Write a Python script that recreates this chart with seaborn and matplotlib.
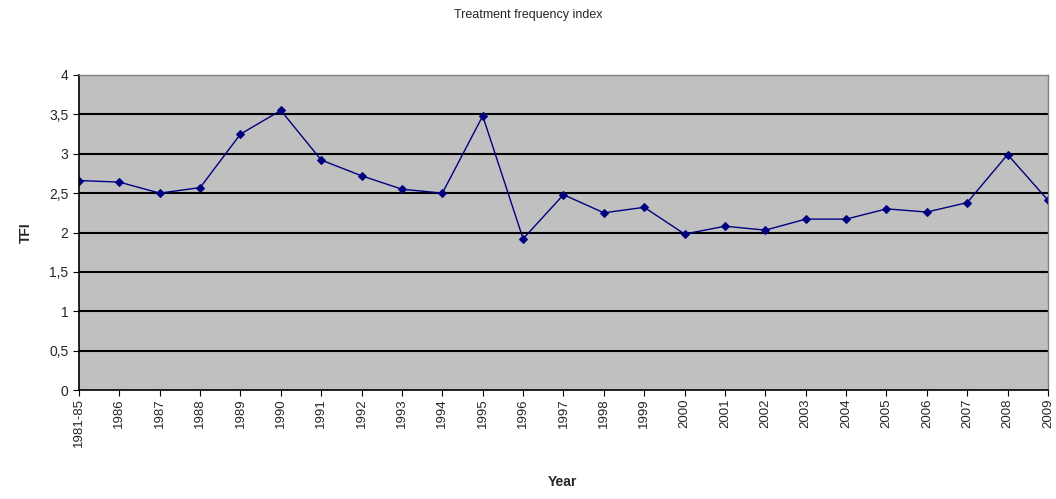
import matplotlib
matplotlib.use("Agg")
import matplotlib.pyplot as plt
import seaborn as sns
import pandas as pd
from matplotlib.ticker import FuncFormatter

years = ["1981-85", "1986", "1987", "1988", "1989", "1990", "1991", "1992",
         "1993", "1994", "1995", "1996", "1997", "1998", "1999", "2000",
         "2001", "2002", "2003", "2004", "2005", "2006", "2007", "2008", "2009"]
tfi = [2.66, 2.64, 2.50, 2.57, 3.25, 3.55, 2.92, 2.72, 2.55, 2.50, 3.48, 1.92,
       2.48, 2.25, 2.32, 1.98, 2.08, 2.03, 2.17, 2.17, 2.30, 2.26, 2.38, 2.99, 2.41]

df = pd.DataFrame({"Year": years, "TFI": tfi})

sns.set_style("white")
plt.rcParams["font.family"] = ["Liberation Sans", "DejaVu Sans"]

fig = plt.figure(figsize=(10.56, 4.99), dpi=100)
ax = fig.add_axes([0.0748, 0.2184, 0.9176, 0.6313])
ax.set_facecolor("#c0c0c0")

sns.lineplot(data=df, x="Year", y="TFI", ax=ax, color="#000080", linewidth=1.0,
             marker="D", markersize=4.5, markeredgecolor="#000080", sort=False)

ax.set_xlim(0, len(years) - 1)
ax.set_ylim(0, 4)
ax.set_yticks([0, 0.5, 1, 1.5, 2, 2.5, 3, 3.5, 4])
ax.yaxis.set_major_formatter(FuncFormatter(lambda v, p: ("%g" % v).replace(".", ",")))
ax.set_xticks(range(len(years)))
ax.set_xticklabels(years, rotation=90, fontsize=9.5)
ax.tick_params(axis="y", labelsize=10, length=4, direction="out", left=True, color="black")
ax.tick_params(axis="x", length=4, direction="out", bottom=True, color="black", pad=2)

for y in [0.5, 1, 1.5, 2, 2.5, 3, 3.5]:
    ax.axhline(y, color="black", linewidth=1.5, zorder=1)

for side in ["left", "bottom"]:
    ax.spines[side].set_color("black")
    ax.spines[side].set_linewidth(1.2)
for side in ["top", "right"]:
    ax.spines[side].set_color("#808080")
    ax.spines[side].set_linewidth(1.0)

ax.set_xlabel("")
ax.set_ylabel("TFI", fontsize=10, fontweight="bold", labelpad=12)
fig.text(0.533, 0.034, "Year", ha="center", va="center", fontsize=10, fontweight="bold")
fig.text(0.5, 0.97, "Treatment frequency index", ha="center", va="center", fontsize=9)

fig.savefig("out.png", dpi=100)
